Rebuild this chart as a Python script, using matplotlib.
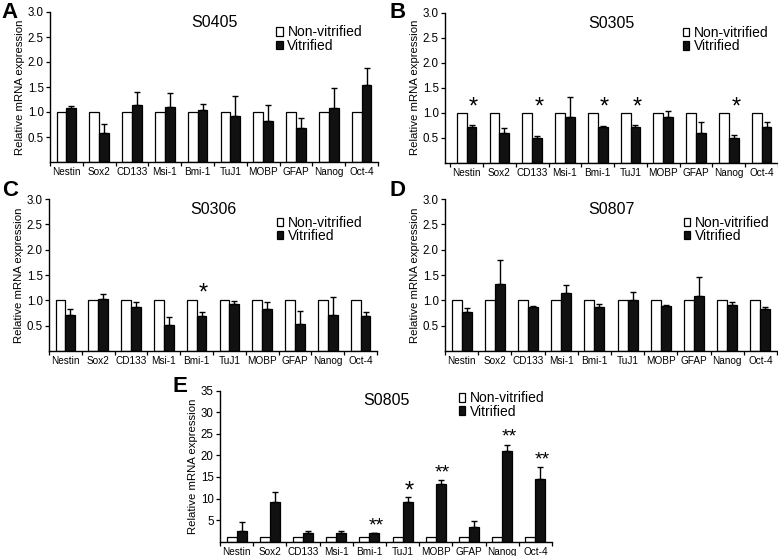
import numpy as np
import matplotlib
matplotlib.use("Agg")
import matplotlib.pyplot as plt
from matplotlib.patches import Patch

plt.rcParams['font.family'] = ['Liberation Sans', 'DejaVu Sans']

genes = ['Nestin', 'Sox2', 'CD133', 'Msi-1', 'Bmi-1', 'TuJ1', 'MOBP', 'GFAP', 'Nanog', 'Oct-4']

# vitrified means and the top of their error bars (non-vitrified is 1.0)
a_vit = [1.09, 0.58, 1.15, 1.11, 1.04, 0.93, 0.83, 0.68, 1.08, 1.54]
a_top = [1.13, 0.77, 1.40, 1.38, 1.17, 1.32, 1.15, 0.89, 1.48, 1.89]
a_stars = ['', '', '', '', '', '', '', '', '', '']

b_vit = [0.71, 0.60, 0.50, 0.91, 0.71, 0.71, 0.91, 0.60, 0.50, 0.71]
b_top = [0.75, 0.70, 0.53, 1.31, 0.73, 0.75, 1.03, 0.81, 0.55, 0.82]
b_stars = ['*', '', '*', '', '*', '*', '', '', '*', '']

c_vit = [0.72, 1.02, 0.87, 0.51, 0.69, 0.93, 0.82, 0.54, 0.71, 0.70]
c_top = [0.82, 1.13, 0.96, 0.68, 0.76, 0.99, 0.97, 0.78, 1.07, 0.76]
c_stars = ['', '', '', '', '*', '', '', '', '', '']

d_vit = [0.76, 1.33, 0.87, 1.14, 0.87, 1.01, 0.88, 1.08, 0.91, 0.82]
d_top = [0.84, 1.79, 0.89, 1.31, 0.93, 1.16, 0.91, 1.47, 0.97, 0.86]
d_stars = ['', '', '', '', '', '', '', '', '', '']

e_vit = [2.5, 9.2, 2.1, 2.0, 1.9, 9.3, 13.4, 3.4, 20.9, 14.5]
e_top = [4.5, 11.4, 2.5, 2.4, 2.0, 10.3, 14.3, 4.7, 22.5, 17.2]
e_stars = ['', '', '', '', '**', '*', '**', '', '**', '**']

non_vit = [1.0] * 10


def panel(fig, rect, title, vit, top, stars, ymax, ystep, star_y=None,
          star_gap=0.0, x0=0.0, leg_anchor=(0.69, 0.93), title_y=0.93):
    ax = fig.add_axes(rect)
    x = np.arange(len(genes)) + 0.5
    w = 0.3
    vit = np.array(vit)
    err = np.array(top) - vit
    ax.bar(x - w / 2, non_vit, w, color='white', edgecolor='black', linewidth=0.9)
    ax.bar(x + w / 2, vit, w, color='#111111', edgecolor='black', linewidth=0.9,
           yerr=[np.zeros_like(err), err], capsize=2.2,
           error_kw=dict(elinewidth=1.0, capthick=1.0, ecolor='black'))
    for i, s in enumerate(stars):
        if not s:
            continue
        y = star_y if star_y is not None else top[i] + star_gap
        fs = 17 if s == '*' else 14
        ax.annotate(s, (x[i] + w / 2 + 0.06, y), xytext=(0, -0.58 * fs), textcoords='offset points',
                    ha='center', va='baseline', fontsize=fs)

    ax.set_xlim(x0, len(genes))
    ax.set_ylim(0, ymax)
    ticks = np.arange(ystep, ymax + ystep / 2, ystep)
    ax.set_yticks(ticks)
    if ystep < 1:
        ax.set_yticklabels(['%.1f' % v for v in ticks])
    ax.set_xticks(x)
    ax.set_xticklabels(genes, fontsize=7.2)
    ax.set_xticks(np.arange(0, len(genes) + 1), minor=True)
    ax.tick_params(axis='x', which='major', length=0, pad=3.5)
    ax.tick_params(axis='x', which='minor', length=3, width=0.9, direction='out')
    ax.tick_params(axis='y', length=3, width=0.9, labelsize=8.3, pad=1.5)
    for sp in ['top', 'right']:
        ax.spines[sp].set_visible(False)
    for sp in ['left', 'bottom']:
        ax.spines[sp].set_linewidth(1.0)
    ax.set_ylabel('Relative mRNA expression', fontsize=8.2, labelpad=2)
    ax.text(0.5, title_y, title, transform=ax.transAxes, ha='center', va='center', fontsize=11.5)

    handles = [Patch(facecolor='white', edgecolor='black', linewidth=0.9),
               Patch(facecolor='#111111', edgecolor='black', linewidth=0.9)]
    ax.legend(handles, ['Non-vitrified', 'Vitrified'], loc='upper left',
              bbox_to_anchor=leg_anchor, frameon=False, fontsize=10,
              handlelength=0.45, handleheight=0.55, handletextpad=0.35,
              labelspacing=-0.05, borderpad=0, borderaxespad=0)
    return ax


fig = plt.figure(figsize=(7.78, 5.56), dpi=100)
W, H = 778.0, 556.0


def rect(l, r, t, b):
    return [l / W, 1 - b / H, (r - l) / W, (b - t) / H]


panel(fig, rect(50, 378, 12, 162), 'S0405', a_vit, a_top, a_stars, 3.0, 0.5,
      leg_anchor=(0.69, 0.91))
panel(fig, rect(445, 778, 12.5, 163), 'S0305', b_vit, b_top, b_stars, 3.0, 0.5,
      star_y=1.26, x0=-0.16, leg_anchor=(0.715, 0.91))
panel(fig, rect(49, 377, 199, 351), 'S0306', c_vit, c_top, c_stars, 3.0, 0.5,
      star_y=1.28, leg_anchor=(0.695, 0.89))
panel(fig, rect(445, 777, 199, 351), 'S0807', d_vit, d_top, d_stars, 3.0, 0.5,
      leg_anchor=(0.72, 0.89))
panel(fig, rect(220, 552, 390.5, 541.7), 'S0805', e_vit, e_top, e_stars, 35, 5,
      star_gap=3.2, leg_anchor=(0.72, 0.995), title_y=0.935)

for letter, px, py in [('A', 10, 12), ('B', 398, 12), ('C', 10, 191), ('D', 398, 191), ('E', 180, 386)]:
    fig.text(px / W, 1 - py / H, letter, ha='center', va='center', fontsize=16, fontweight='bold')

fig.savefig('out.png', dpi=100)
